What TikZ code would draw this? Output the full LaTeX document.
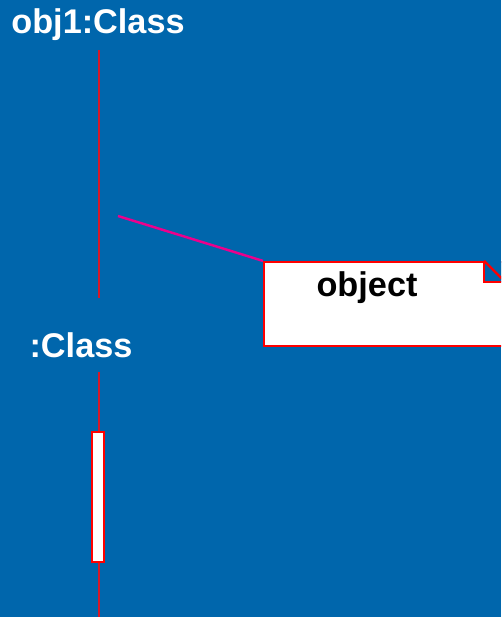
\documentclass[tikz,border=0pt]{standalone}
\usepackage{fontspec}
\setmainfont{Liberation Sans}
\usepackage{xcolor}
\usetikzlibrary{calc, positioning}

\definecolor{slideblue}{RGB}{0,102,172}
\definecolor{lifered}{RGB}{214,24,40}

\begin{document}
\begin{tikzpicture}[
    x=0.02cm, y=-0.02cm,
    every node/.style={font=\fontsize{19.5}{22}\selectfont\bfseries},
    objname/.style={text=white, inner sep=0pt},
    lifeline/.style={draw=lifered, line width=1.4pt},
    activation/.style={draw=red, line width=1.4pt, fill=white,
                       minimum width=0.24cm, minimum height=2.6cm, inner sep=0pt},
    notebox/.style={draw=red, line width=1.3pt, fill=white,
                    minimum width=4.82cm, minimum height=1.68cm, inner sep=0pt},
]
  % background and page size
  \fill[slideblue] (0,0) rectangle (501,617);
  \clip (0,0) rectangle (501,617);

  % first object
  \node[objname] (obj1) at (98,25) {obj1:Class};
  \coordinate (top1) at (99,50);
  \coordinate (end1) at (99,298);
  \draw[lifeline] (top1) -- (end1);

  % note attached to the first lifeline
  \node[notebox] (note) at (384.5,304) {};
  \coordinate (fold) at ($(note.north east)+(-22,0)$);
  \fill[slideblue] (fold) -- (note.north east) -- ++(0,21) -- ($(fold)+(0,21)$) -- cycle;
  \draw[red, line width=1.3pt] (fold) -- ++(0,21) -- ++(22,0);
  \draw[red, line width=1.3pt] (fold) -- ++(22,22);
  \node[inner sep=0pt] (notetext) at (367,288) {object};
  \coordinate (hook) at (118,216);
  \draw[magenta, line width=1.4pt] (hook) -- (note.north west);

  % anonymous object
  \node[objname] (obj2) at (81,345) {:Class};
  \coordinate (top2) at (99,372);
  \coordinate (end2) at (99,620);
  \draw[lifeline] (top2) -- (end2);
  \node[activation] (act) at (98,497) {};
\end{tikzpicture}
\end{document}
